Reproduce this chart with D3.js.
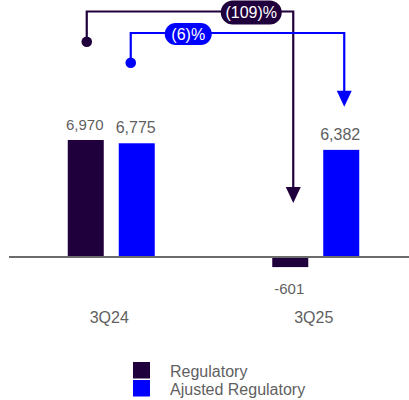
<!DOCTYPE html>
<html>
<head>
<meta charset="utf-8">
<script src="https://cdn.jsdelivr.net/npm/d3@7"></script>
<style>
  html, body { margin: 0; padding: 0; background: #fff; }
  svg { display: block; font-family: "Liberation Sans", Arial, sans-serif; }
</style>
</head>
<body>
<svg id="chart" width="409" height="400"></svg>
<script>
// Quarterly results, regulatory vs adjusted regulatory
const categories = ["3Q24", "3Q25"];
const seriesNames = ["Regulatory", "Ajusted Regulatory"];
const regulatory = [6970, -601];
const adjusted = [6775, 6382];
const valueLabels = [["6,970", "-601"], ["6,775", "6,382"]];
const changeLabels = ["(109)%", "(6)%"];

const colors = ["#20003C", "#0000FF"];
const textGray = "#5f5f5f";

const svg = d3.select("#chart");

const x0 = d3.scaleBand().domain(categories).range([9, 418]).padding(0);
const groupW = 87;
const x1 = d3.scaleBand().domain(seriesNames)
  .range([x0.bandwidth() / 2 - groupW / 2, x0.bandwidth() / 2 + groupW / 2])
  .paddingInner(0.294);
const y = d3.scaleLinear().domain([0, 7000]).range([257, 139.5]);

const values = [regulatory, adjusted];
const rows = [];
seriesNames.forEach((s, si) => {
  categories.forEach((c, ci) => {
    rows.push({ s, si, c, ci, v: values[si][ci], label: valueLabels[si][ci] });
  });
});
const cx = d => x0(d.c) + x1(d.s) + x1.bandwidth() / 2;

// bars
svg.append("g").selectAll("rect").data(rows).join("rect")
  .attr("x", d => x0(d.c) + x1(d.s))
  .attr("width", x1.bandwidth())
  .attr("y", d => y(Math.max(0, d.v)))
  .attr("height", d => Math.abs(y(d.v) - y(0)))
  .attr("fill", d => colors[d.si]);

// zero line
svg.append("line")
  .attr("x1", 9).attr("x2", 409)
  .attr("y1", y(0)).attr("y2", y(0))
  .attr("stroke", "#6b6b6b").attr("stroke-width", 1.8);

// value labels
svg.append("g").selectAll("text").data(rows).join("text")
  .attr("x", d => cx(d) - 1)
  .attr("y", d => d.v >= 0 ? y(d.v) - 10 : y(d.v) + 27)
  .attr("text-anchor", "middle")
  .attr("font-size", d => d.si === 0 ? 15 : 16)
  .attr("fill", textGray)
  .text(d => d.label);

// category labels
svg.append("g").selectAll("text").data(categories).join("text")
  .attr("x", c => x0(c) + x0.bandwidth() / 2 - 2)
  .attr("y", 323)
  .attr("text-anchor", "middle")
  .attr("font-size", 16)
  .attr("fill", textGray)
  .text(c => c);

// change connectors: from first quarter bar to second quarter bar
const find = (si, ci) => rows.find(r => r.si === si && r.ci === ci);
const connectors = [
  { si: 0, label: changeLabels[0], sx: cx(find(0, 0)) + 1, sy: 41.7, hy: 11.5,
    ex: cx(find(0, 1)) + 3, ey: y(0) - 54, px: cx(find(0, 1)) - 39, pw: 61, ph: 24 },
  { si: 1, label: changeLabels[1], sx: cx(find(1, 0)) - 6, sy: 62.7, hy: 33,
    ex: cx(find(1, 1)) + 3, ey: y(6382) - 43, px: cx(find(1, 0)) + 51.5, pw: 47, ph: 22 }
];

const conn = svg.append("g").selectAll("g").data(connectors).join("g");
conn.append("path")
  .attr("d", d => `M${d.sx},${d.sy} V${d.hy} H${d.ex} V${d.ey - 15}`)
  .attr("fill", "none")
  .attr("stroke", d => colors[d.si])
  .attr("stroke-width", 2.2);
conn.append("circle")
  .attr("cx", d => d.sx).attr("cy", d => d.sy).attr("r", 5.3)
  .attr("fill", d => colors[d.si]);
conn.append("path")
  .attr("d", d => `M${d.ex - 7.5},${d.ey - 16} L${d.ex + 7.5},${d.ey - 16} L${d.ex},${d.ey} Z`)
  .attr("fill", d => colors[d.si]);
conn.append("rect")
  .attr("x", d => d.px - d.pw / 2)
  .attr("y", d => d.hy + 1 - d.ph / 2)
  .attr("width", d => d.pw).attr("height", d => d.ph)
  .attr("rx", d => d.ph / 2)
  .attr("fill", d => colors[d.si]);
conn.append("text")
  .attr("x", d => d.px).attr("y", d => d.hy + 1)
  .attr("dy", "0.36em")
  .attr("text-anchor", "middle")
  .attr("font-size", 16)
  .attr("fill", "#fff")
  .text(d => d.label);

// legend
const legend = svg.append("g").selectAll("g").data(seriesNames).join("g")
  .attr("transform", (d, i) => `translate(133, ${362 + i * 18})`);
legend.append("rect")
  .attr("width", 17).attr("height", 16.5)
  .attr("fill", (d, i) => colors[i]);
legend.append("text")
  .attr("x", 37).attr("y", 14.5)
  .attr("font-size", 16)
  .attr("fill", textGray)
  .text(d => d);
</script>
</body>
</html>
